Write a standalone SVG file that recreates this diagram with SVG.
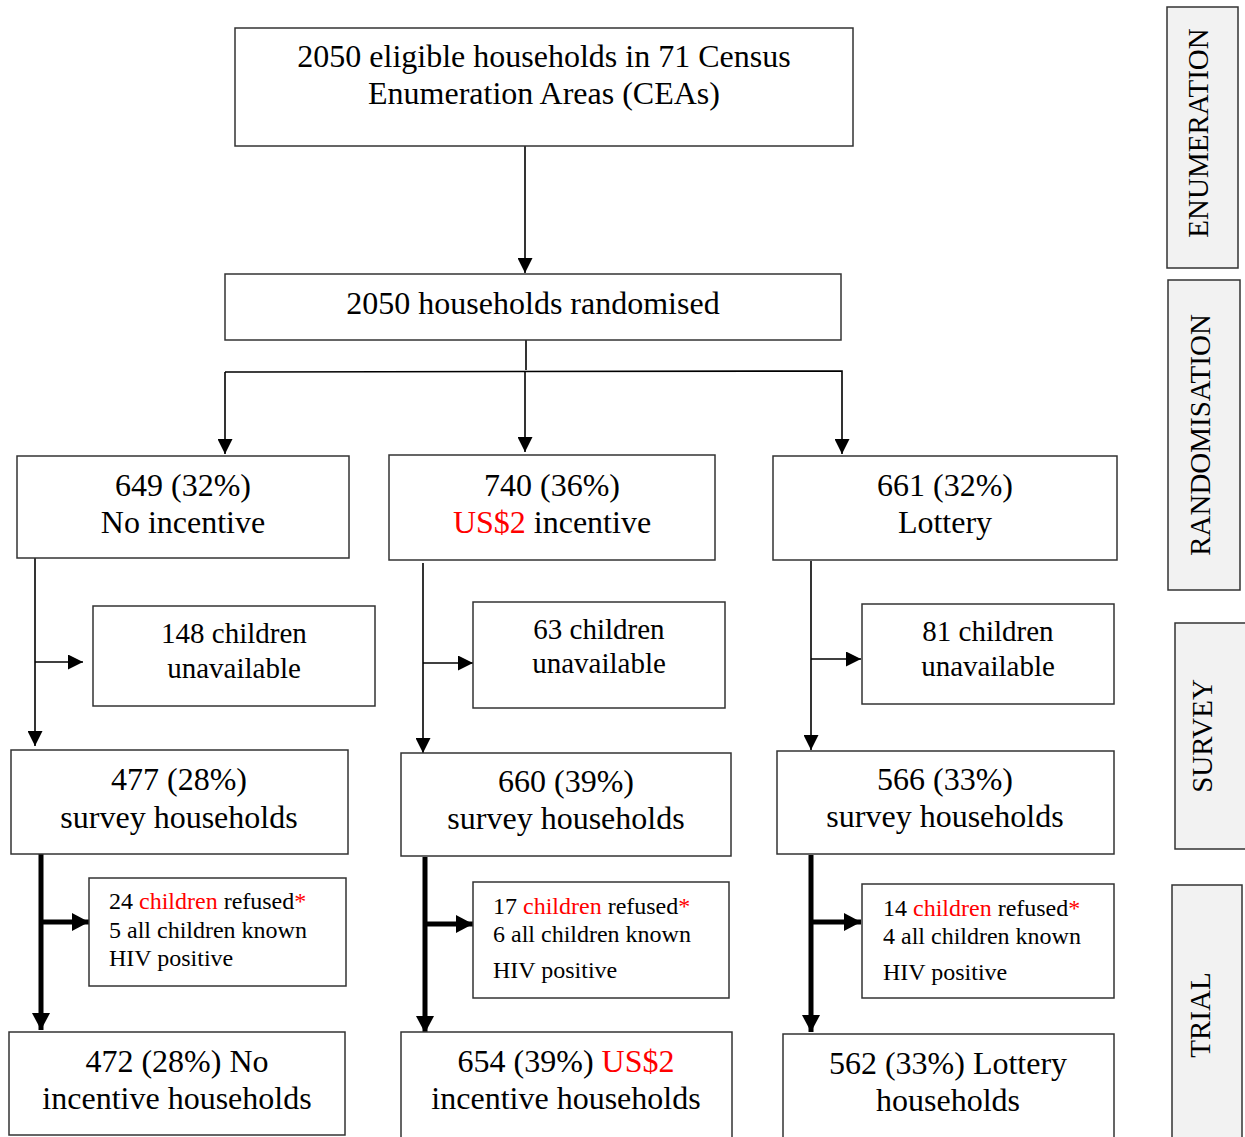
<svg xmlns="http://www.w3.org/2000/svg" width="1245" height="1137" viewBox="0 0 1245 1137">
<style>
.box{fill:#fff;stroke:#333;stroke-width:1.5}
.side{fill:#f2f2f2;stroke:#333;stroke-width:1.5}
.t{font-family:"Liberation Serif","Times New Roman",serif;font-size:32px;fill:#000;text-anchor:middle}
.m{font-family:"Liberation Serif","Times New Roman",serif;font-size:29px;fill:#000;text-anchor:middle}
.s{font-family:"Liberation Serif","Times New Roman",serif;font-size:24px;fill:#000}
.st{font-family:"Liberation Serif","Times New Roman",serif;font-size:29px;fill:#000;text-anchor:middle}
.red{fill:#ff0000}
.thin{stroke:#000;stroke-width:1.6;fill:none}
.thick{stroke:#000;stroke-width:5;fill:none}
</style>
<defs>
<marker id="a" markerUnits="userSpaceOnUse" markerWidth="15" markerHeight="15" refX="15" refY="7.5" orient="auto"><path d="M0,0 L15,7.5 L0,15 z" fill="#000"/></marker>
<marker id="b" markerUnits="userSpaceOnUse" markerWidth="17" markerHeight="18" refX="17" refY="9" orient="auto"><path d="M0,0 L17,9 L0,18 z" fill="#000"/></marker>
</defs>
<rect width="1245" height="1137" fill="#fff"/>

<g id="connectors">
<line class="thin" x1="525" y1="146" x2="525" y2="273" marker-end="url(#a)"/>
<line class="thin" x1="526" y1="340" x2="526" y2="370"/>
<polyline class="thin" points="225,372 842,371 842,454" marker-end="url(#a)"/>
<line class="thin" x1="225" y1="372" x2="225" y2="454" marker-end="url(#a)"/>
<line class="thin" x1="525" y1="372" x2="525" y2="452" marker-end="url(#a)"/>
<line class="thin" x1="35" y1="558" x2="35" y2="746" marker-end="url(#a)"/>
<line class="thin" x1="35" y1="662" x2="83" y2="662" marker-end="url(#a)"/>
<line class="thin" x1="423" y1="563" x2="423" y2="753" marker-end="url(#a)"/>
<line class="thin" x1="423" y1="663" x2="473" y2="663" marker-end="url(#a)"/>
<line class="thin" x1="811" y1="561" x2="811" y2="750" marker-end="url(#a)"/>
<line class="thin" x1="811" y1="659" x2="861" y2="659" marker-end="url(#a)"/>
<line class="thick" x1="41" y1="854" x2="41" y2="1030" marker-end="url(#b)"/>
<line class="thick" x1="41" y1="922" x2="89" y2="922" marker-end="url(#b)"/>
<line class="thick" x1="425" y1="857" x2="425" y2="1033" marker-end="url(#b)"/>
<line class="thick" x1="425" y1="924" x2="473" y2="924" marker-end="url(#b)"/>
<line class="thick" x1="811" y1="855" x2="811" y2="1032" marker-end="url(#b)"/>
<line class="thick" x1="811" y1="922" x2="861" y2="922" marker-end="url(#b)"/>
</g>

<g id="n-eligible">
<rect class="box" x="235" y="28" width="618" height="118"/>
<text class="t" x="544" y="67">2050 eligible households in 71 Census</text>
<text class="t" x="544" y="104">Enumeration Areas (CEAs)</text>
</g>
<g id="n-randomised">
<rect class="box" x="225" y="274" width="616" height="66"/>
<text class="t" x="533" y="314">2050 households randomised</text>
</g>

<g id="n-noinc">
<rect class="box" x="17" y="456" width="332" height="102"/>
<text class="t" x="183" y="496">649 (32%)</text>
<text class="t" x="183" y="533">No incentive</text>
</g>
<g id="n-us2">
<rect class="box" x="389" y="455" width="326" height="105"/>
<text class="t" x="552" y="496">740 (36%)</text>
<text class="t" x="552" y="533"><tspan class="red">US$2</tspan> incentive</text>
</g>
<g id="n-lottery">
<rect class="box" x="773" y="456" width="344" height="104"/>
<text class="t" x="945" y="496">661 (32%)</text>
<text class="t" x="945" y="533">Lottery</text>
</g>

<g id="n-unav1">
<rect class="box" x="93" y="606" width="282" height="100"/>
<text class="m" x="234" y="643">148 children</text>
<text class="m" x="234" y="678">unavailable</text>
</g>
<g id="n-unav2">
<rect class="box" x="473" y="602" width="252" height="106"/>
<text class="m" x="599" y="639">63 children</text>
<text class="m" x="599" y="673">unavailable</text>
</g>
<g id="n-unav3">
<rect class="box" x="862" y="604" width="252" height="100"/>
<text class="m" x="988" y="641">81 children</text>
<text class="m" x="988" y="676">unavailable</text>
</g>

<g id="n-survey1">
<rect class="box" x="11" y="750" width="337" height="104"/>
<text class="t" x="179" y="790">477 (28%)</text>
<text class="t" x="179" y="828">survey households</text>
</g>
<g id="n-survey2">
<rect class="box" x="401" y="753" width="330" height="103"/>
<text class="t" x="566" y="792">660 (39%)</text>
<text class="t" x="566" y="829">survey households</text>
</g>
<g id="n-survey3">
<rect class="box" x="777" y="751" width="337" height="103"/>
<text class="t" x="945" y="790">566 (33%)</text>
<text class="t" x="945" y="827">survey households</text>
</g>

<g id="n-ref1">
<rect class="box" x="89" y="878" width="257" height="108"/>
<text class="s" x="109" y="909">24 <tspan class="red">children</tspan> refused<tspan class="red">*</tspan></text>
<text class="s" x="109" y="938">5 all children known</text>
<text class="s" x="109" y="966">HIV positive</text>
</g>
<g id="n-ref2">
<rect class="box" x="473" y="882" width="256" height="116"/>
<text class="s" x="493" y="914">17 <tspan class="red">children</tspan> refused<tspan class="red">*</tspan></text>
<text class="s" x="493" y="942">6 all children known</text>
<text class="s" x="493" y="978">HIV positive</text>
</g>
<g id="n-ref3">
<rect class="box" x="862" y="884" width="252" height="114"/>
<text class="s" x="883" y="916">14 <tspan class="red">children</tspan> refused<tspan class="red">*</tspan></text>
<text class="s" x="883" y="944">4 all children known</text>
<text class="s" x="883" y="980">HIV positive</text>
</g>

<g id="n-final1">
<rect class="box" x="9" y="1032" width="336" height="103"/>
<text class="t" x="177" y="1072">472 (28%) No</text>
<text class="t" x="177" y="1109">incentive households</text>
</g>
<g id="n-final2">
<rect class="box" x="401" y="1032" width="331" height="110"/>
<text class="t" x="566" y="1072">654 (39%) <tspan class="red">US$2</tspan></text>
<text class="t" x="566" y="1109">incentive households</text>
</g>
<g id="n-final3">
<rect class="box" x="783" y="1034" width="331" height="110"/>
<text class="t" x="948" y="1074">562 (33%) Lottery</text>
<text class="t" x="948" y="1111">households</text>
</g>

<g id="n-enumeration">
<rect class="side" x="1167" y="7" width="71" height="261"/>
<text class="st" transform="translate(1208,133) rotate(-90)">ENUMERATION</text>
</g>
<g id="n-randomisation">
<rect class="side" x="1168" y="280" width="72" height="310"/>
<text class="st" transform="translate(1210,435) rotate(-90)">RANDOMISATION</text>
</g>
<g id="n-survey">
<rect class="side" x="1175" y="623" width="75" height="226"/>
<text class="st" transform="translate(1212,736) rotate(-90)">SURVEY</text>
</g>
<g id="n-trial">
<rect class="side" x="1172" y="885" width="70" height="260"/>
<text class="st" transform="translate(1210,1015) rotate(-90)">TRIAL</text>
</g>
</svg>
